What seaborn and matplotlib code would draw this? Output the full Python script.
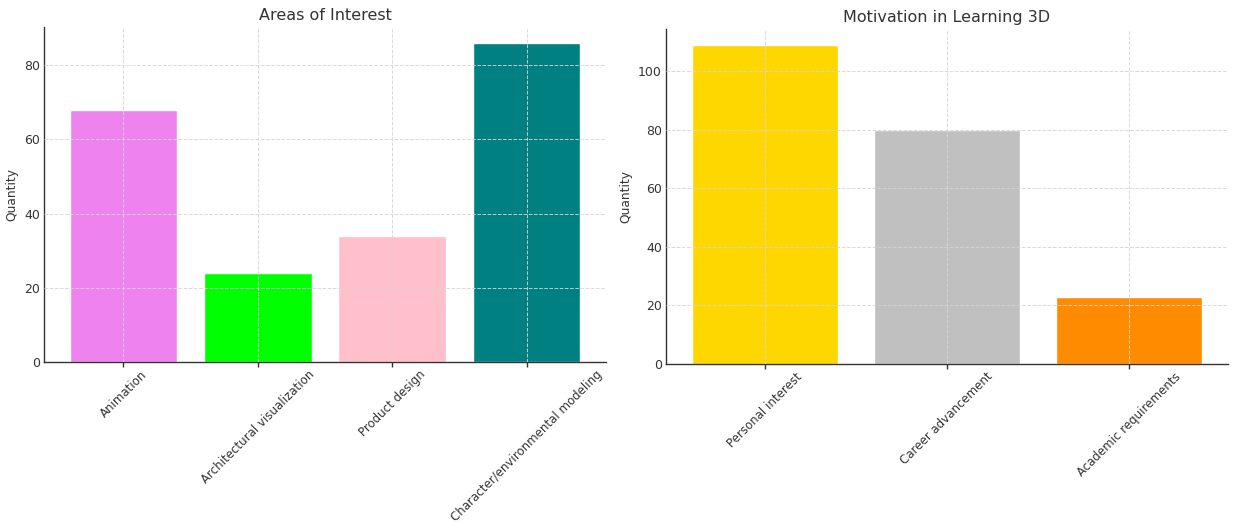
import matplotlib
matplotlib.use("Agg")
import matplotlib.pyplot as plt
import seaborn as sns
import pandas as pd

areas = ["Animation", "Architectural visualization", "Product design", "Character/environmental modeling"]
areas_qty = [68, 24, 34, 86]
areas_colors = ["violet", "lime", "pink", "teal"]

motives = ["Personal interest", "Career advancement", "Academic requirements"]
motives_qty = [109, 80, 23]
motives_colors = ["gold", "silver", "darkorange"]

sns.set_theme(style="white")
plt.rcParams['font.family'] = ['DejaVu Sans']
plt.rcParams['text.color'] = '#333333'
plt.rcParams['axes.labelcolor'] = '#333333'
plt.rcParams['xtick.color'] = '#333333'
plt.rcParams['ytick.color'] = '#333333'

fig = plt.figure(figsize=(12.35, 5.23), dpi=100)
ax1 = fig.add_axes([44/1235, (523-362)/523, 562/1235, 335/523])
ax2 = fig.add_axes([666/1235, (523-364)/523, 562/1235, 335/523])

def draw(ax, cats, vals, cols, title):
    df = pd.DataFrame({"cat": cats, "qty": vals})
    sns.barplot(data=df, x="cat", y="qty", hue="cat", palette=cols, legend=False,
                ax=ax, width=0.8, saturation=1)
    n = len(cats)
    m = 0.05 * (n - 1 + 0.8)
    ax.set_xlim(-0.4 - m, n - 1 + 0.4 + m)
    ax.set_ylim(0, max(vals) * 1.05)
    ax.set_title(title, fontsize=11.5, color='#333333', pad=5)
    ax.set_xlabel("")
    ax.set_ylabel("Quantity", fontsize=8.8, labelpad=4)
    ax.tick_params(axis='x', rotation=45, labelsize=8.5, length=3.5, width=1, bottom=True, pad=1)
    ax.tick_params(axis='y', labelsize=9, length=0, left=False, pad=3)
    for lbl in ax.get_xticklabels():
        lbl.set_ha('center')
    ax.grid(True, linestyle='--', color='#d5d5d5', linewidth=0.7, alpha=0.9)
    ax.set_axisbelow(False)
    for s in ["top", "right"]:
        ax.spines[s].set_visible(False)
    for s in ["left", "bottom"]:
        ax.spines[s].set_color('#333333')
        ax.spines[s].set_linewidth(1.0)

draw(ax1, areas, areas_qty, areas_colors, "Areas of Interest")
draw(ax2, motives, motives_qty, motives_colors, "Motivation in Learning 3D")

fig.savefig("out.png", dpi=100)
